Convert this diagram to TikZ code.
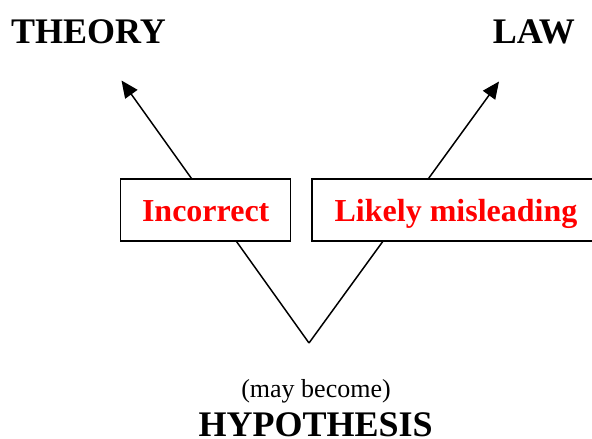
\documentclass[tikz,border=0pt]{standalone}
\usepackage{fontspec}
\setmainfont{Liberation Serif}
\usetikzlibrary{arrows.meta}
\begin{document}
\begin{tikzpicture}[x=1pt,y=-1pt,
  conn/.style={line width=1.5pt},
  arr/.style={conn,-{Triangle[length=17pt,width=15pt]}},
  box/.style={draw=black,line width=1.5pt,fill=white,inner sep=0pt,text=red,
    font=\fontsize{32}{32}\bfseries\selectfont,text height=22pt,text depth=0pt,minimum height=62pt},
  title/.style={inner sep=0pt,anchor=base,font=\fontsize{36}{36}\bfseries\selectfont},
  note/.style={inner sep=0pt,anchor=base,font=\fontsize{26}{26}\selectfont}]
\useasboundingbox (0,0) rectangle (592,439);
\fill[white] (0,0) rectangle (592,439);
\coordinate (apex) at (309,343);
\coordinate (tipL) at (121.5,80.5);
\coordinate (tipR) at (499,81.5);
\draw[arr] (apex) -- (tipL);
\draw[arr] (apex) -- (tipR);
\node[box,minimum width=170pt] (inc) at (205.7,210) {Incorrect};
\begin{scope}
\clip (0,0) rectangle (592,439);
\node[box,minimum width=288pt] (lik) at (456,210) {Likely misleading};
\end{scope}
\node[title,anchor=base west] (theory) at (11,43.3) {THEORY};
\node[title,anchor=base east] (law) at (575,43.3) {LAW};
\node[note] (may) at (316,397.5) {(may become)};
\node[title] (hyp) at (315.7,436) {HYPOTHESIS};
\end{tikzpicture}
\end{document}
